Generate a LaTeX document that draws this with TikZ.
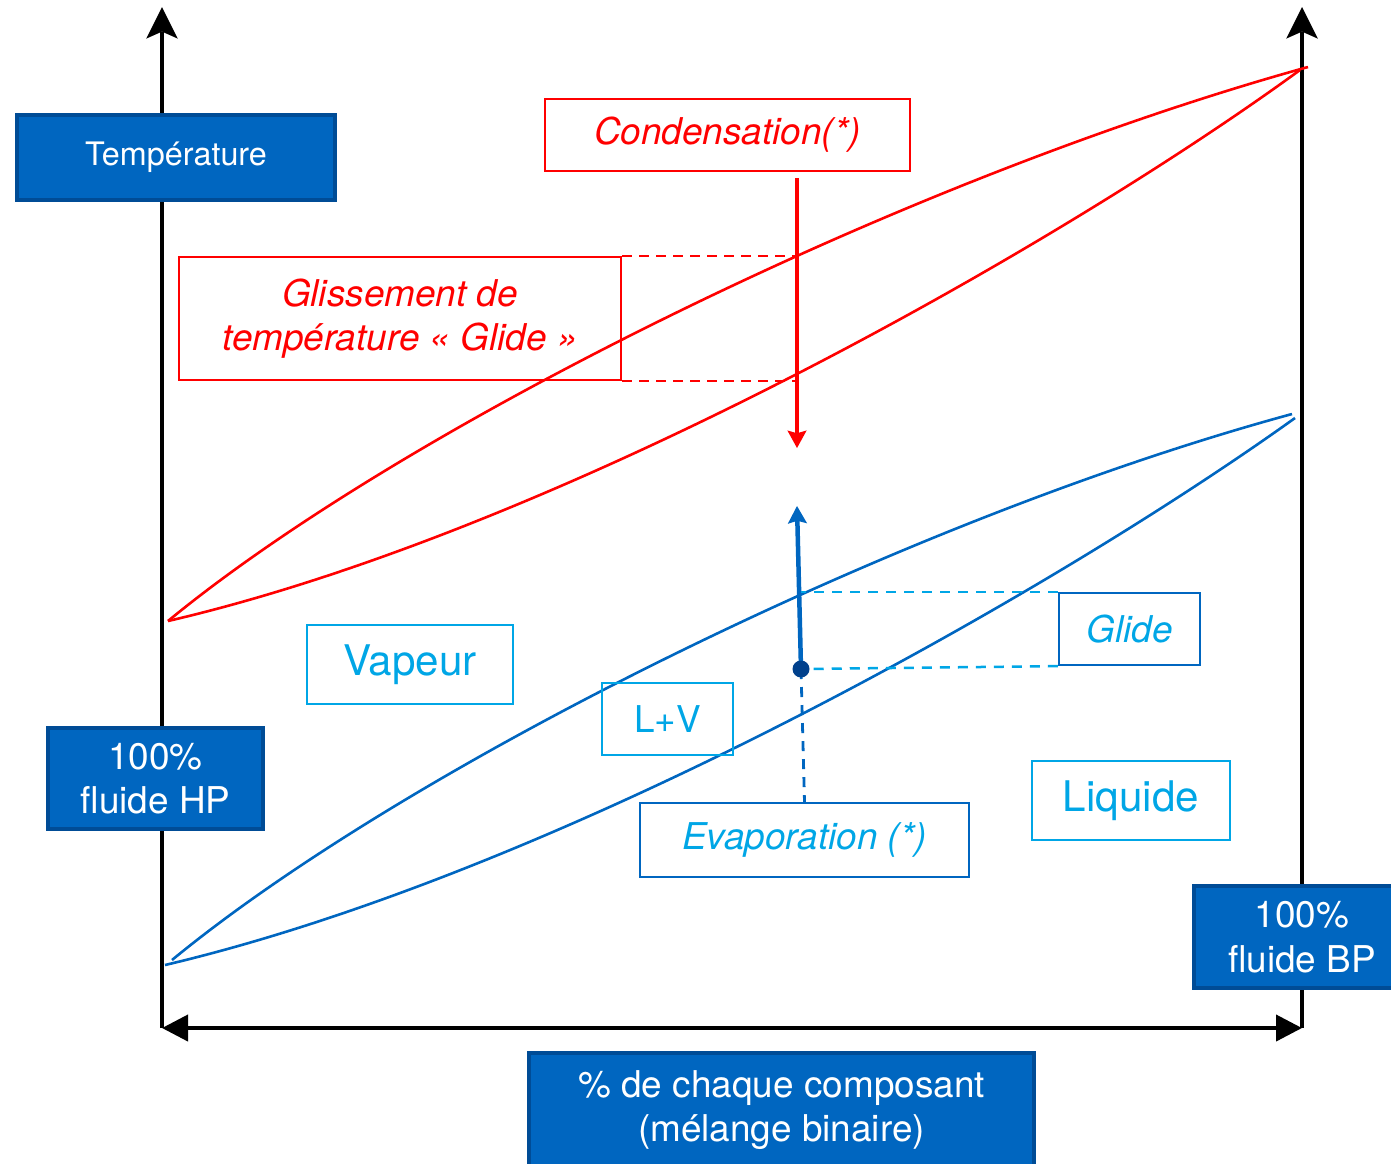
\documentclass[tikz,border=0pt]{standalone}
\usepackage{fontspec}
\setmainfont{TeX Gyre Heros}
\usetikzlibrary{arrows.meta}
\definecolor{boxfill}{RGB}{0,102,192}
\definecolor{boxedge}{RGB}{0,76,150}
\definecolor{curveblue}{RGB}{0,102,192}
\definecolor{skyblue}{RGB}{0,166,230}
\definecolor{dotblue}{RGB}{0,64,140}
\tikzset{
	axis/.style={line width=0.04cm, black},
	darkbox/.style={draw=boxedge, fill=boxfill, line width=0.04cm, text=white,
			align=center, inner sep=0pt, font=\fontsize{10.5}{12.7}\selectfont},
	redbox/.style={draw=red, line width=0.022cm, text=red, align=center,
			inner sep=0pt, font=\fontsize{10.5}{12.7}\selectfont\itshape},
	cyanbox/.style={draw=skyblue, line width=0.022cm, text=skyblue,
			inner sep=0pt, font=\fontsize{10.5}{12.7}\selectfont},
	bluebox/.style={draw=curveblue, line width=0.022cm, text=skyblue,
			inner sep=0pt, font=\fontsize{10.5}{12.7}\selectfont\itshape},
	redcurve/.style={red, line width=0.026cm},
	bluecurve/.style={curveblue, line width=0.026cm},
	reddash/.style={red, line width=0.025cm, dash pattern=on 0.1cm off 0.07cm},
	cyandash/.style={skyblue, line width=0.025cm, dash pattern=on 0.1cm off 0.08cm},
	bluedash/.style={curveblue, line width=0.028cm, dash pattern=on 0.1cm off 0.08cm},
	axistip/.tip={Stealth[length=9pt, width=9pt, inset=2pt, line width=0pt]},
	smalltip/.tip={Stealth[length=5pt, width=5.5pt, inset=0.8pt, line width=0pt]}
}

\begin{document}
\begin{tikzpicture}[x=0.01cm, y=-0.01cm]
        \useasboundingbox (0,0) rectangle (1391,1163);

        % Axes
        \coordinate (origin) at (162,1028);
        \coordinate (xend) at (1302,1028);
        \coordinate (ytop) at (162,7);
        \coordinate (ytopR) at (1302,7);
        \draw[axis, -axistip] (origin) -- (ytop);
        \draw[axis, -axistip] (xend) -- (ytopR);
        \draw[axis, {Triangle[length=0.26cm, width=0.26cm]}-{Triangle[length=0.26cm, width=0.26cm]}] (origin) -- (xend);

        % Condenser curves
        \coordinate (redL) at (168,621);
        \draw[redcurve] (redL) .. controls (400,430) and (900,180) .. (1308,67);
        \draw[redcurve] (redL) .. controls (560,530) and (1060,245) .. (1300,70);

        % Evaporator curves
        \draw[bluecurve] (172,960) .. controls (400,772) and (895,522) .. (1292,414);
        \draw[bluecurve] (165,965) .. controls (560,872) and (1055,590) .. (1295,418);

        % Axis labels
        \node[darkbox, minimum width=3.18cm, minimum height=0.85cm,
              font=\fontsize{9.2}{11}\selectfont] (temp) at (176,157.5) {Température};
        \node[darkbox, minimum width=2.15cm, minimum height=1.01cm] (hp) at (155.5,778.5) {100\%\\fluide HP};
        \node[darkbox, minimum width=2.16cm, minimum height=1.02cm] (bp) at (1302,937) {100\%\\fluide BP};
        \node[darkbox, minimum width=5.05cm, minimum height=1.14cm] (comp) at (781.5,1110) {\% de chaque composant\\(mélange binaire)};

        % Red labels
        \node[redbox, minimum width=3.65cm, minimum height=0.72cm] (cond) at (727.5,135) {Condensation(*)};
        \node[redbox, minimum width=4.42cm, minimum height=1.23cm] (gliss) at (400,318.5) {Glissement de\\température « Glide »};

        % Phase labels
        \node[cyanbox, minimum width=2.06cm, minimum height=0.79cm,
              font=\fontsize{12}{14}\selectfont] (vap) at (410,664.5) {Vapeur};
        \node[cyanbox, minimum width=1.31cm, minimum height=0.72cm] (lv) at (667.5,719) {L+V};
        \node[cyanbox, minimum width=1.98cm, minimum height=0.79cm,
              font=\fontsize{12}{14}\selectfont] (liq) at (1131,800.5) {Liquide};
        \node[bluebox, minimum width=1.41cm, minimum height=0.72cm] (glide) at (1129.5,629) {Glide};
        \node[bluebox, minimum width=3.29cm, minimum height=0.74cm] (evap) at (804.5,840) {Evaporation (*)};

        % Condensation arrow
        \coordinate (condtop) at (797,178);
        \coordinate (condtip) at (797,448);
        \draw[red, line width=0.038cm, -smalltip] (condtop) -- (condtip);
        \draw[reddash] (gliss.north east) -- (gliss.north east -| condtop);
        \draw[reddash] (gliss.south east) -- (gliss.south east -| condtop);

        % Evaporation arrow
        \coordinate (evapdot) at (801,669);
        \coordinate (evaptip) at (797,506);
        \draw[curveblue, line width=0.045cm, -smalltip] (evapdot) -- (evaptip);
        \draw[cyandash] (glide.north west) -- (glide.north west -| evapdot);
        \draw[cyandash] (glide.south west) -- (evapdot);
        \draw[bluedash] (evapdot) -- (evap.north);
        \fill[dotblue] (evapdot) circle (0.085cm);

\end{tikzpicture}
\end{document}
